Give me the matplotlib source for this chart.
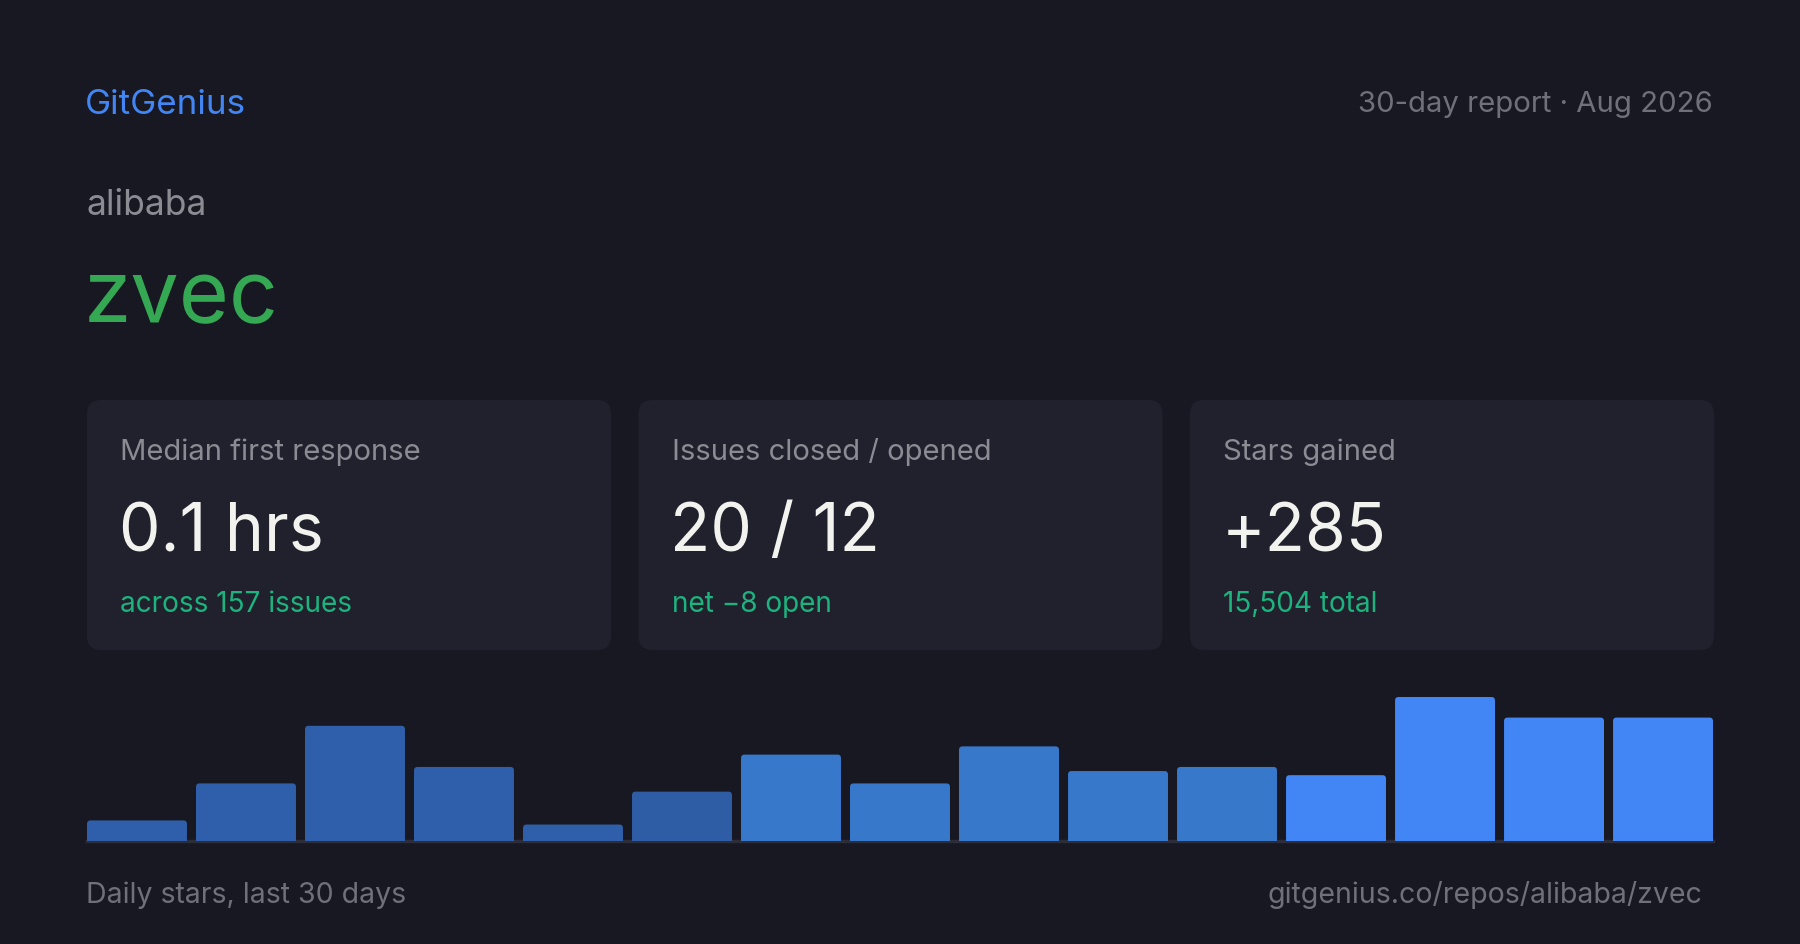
import numpy as np
import matplotlib.pyplot as plt
from matplotlib.patches import FancyBboxPatch

plt.rcParams["font.family"] = ["Inter", "DejaVu Sans"]

# canvas in pixels
W, H = 1800, 945
PT = 0.72  # px -> pt at dpi 100

BG = "#171821"
CARD = "#20212c"
GRAY = "#8b8b94"
DIM = "#6f707a"
WHITE = "#f2f2ee"
TEAL = "#1db37e"

# data
owner = "alibaba"
repo = "zvec"
card_labels = ["Median first response", "Issues closed / opened", "Stars gained"]
card_values = ["0.1 hrs", "20 / 12", "+285"]
card_subs = ["across 157 issues", "net \u22128 open", "15,504 total"]
daily_stars = [5, 14, 28, 18, 4, 12, 21, 14, 23, 17, 18, 16, 35, 30, 30]
bar_colors = ["#2f5faa"] * 5 + ["#2e5ca5"] + ["#3778cb"] * 5 + ["#4285f4"] * 4

fig = plt.figure(figsize=(W / 100, H / 100), dpi=100)
fig.patch.set_facecolor(BG)
ax = fig.add_axes([0, 0, 1, 1])
ax.set_xlim(0, W)
ax.set_ylim(H, 0)
ax.axis("off")
ax.set_facecolor(BG)

LEFT, RIGHT = 87, 1713

# header
ax.text(LEFT - 2, 114, "GitGenius", color="#4285f4", fontsize=35 * PT, va="baseline", ha="left")
ax.text(RIGHT, 112, "30-day report \u00b7 Aug 2026", color=DIM, fontsize=29.3 * PT,
        va="baseline", ha="right")
ax.text(LEFT - 1, 215, owner, color=GRAY, fontsize=35.5 * PT, va="baseline", ha="left")
ax.text(LEFT - 3, 322, repo, color="#34a853", fontsize=86 * PT, va="baseline", ha="left")

# stat cards
card_w, gap = 524, 27.5
for i in range(3):
    x0 = LEFT + i * (card_w + gap)
    box = FancyBboxPatch((x0, 401), card_w, 250, boxstyle="round,pad=0,rounding_size=14",
                         facecolor=CARD, edgecolor="none")
    ax.add_patch(box)
    ax.text(x0 + 33, 460, card_labels[i], color=GRAY, fontsize=29.2 * PT, va="baseline")
    ax.text(x0 + 32, 551, card_values[i], color=WHITE, fontsize=66 * PT, va="baseline")
    ax.text(x0 + 33, 612, card_subs[i], color=TEAL, fontsize=28 * PT, va="baseline")

# footer
ax.text(LEFT - 1, 903, "Daily stars, last 30 days", color=DIM, fontsize=28.5 * PT, va="baseline")
ax.text(1702, 903, "gitgenius.co/repos/alibaba/zvec", color=DIM, fontsize=28.5 * PT,
        va="baseline", ha="right")

# bar chart
bw = 0.917
base, top = 842, 698
bax = fig.add_axes([LEFT / W, (H - base) / H, (RIGHT - LEFT) / W, (base - top) / H])
bax.set_facecolor("none")
xs = np.arange(len(daily_stars))
bars = bax.bar(xs, daily_stars, width=bw, color=bar_colors, zorder=2)
bax.set_xlim(-bw / 2, xs[-1] + bw / 2)
bax.set_ylim(0, max(daily_stars))

# round the top corners: swap each rect for a rounded box that dips below the baseline
px_x = (RIGHT - LEFT) / (xs[-1] + bw)
px_y = (base - top) / max(daily_stars)
r = 3.5 / px_x
for rect, c in zip(bars, bar_colors):
    rect.set_visible(False)
    rb = FancyBboxPatch((rect.get_x(), -2), rect.get_width(), rect.get_height() + 2,
                        boxstyle=f"round,pad=0,rounding_size={r}",
                        mutation_aspect=px_x / px_y, facecolor=c, edgecolor="none", zorder=2)
    bax.add_patch(rb)
bax.axhline(0, color="#2c2d38", lw=2.5, clip_on=False, zorder=1)
bax.axis("off")

fig.savefig("out.png", dpi=100, facecolor=BG)
